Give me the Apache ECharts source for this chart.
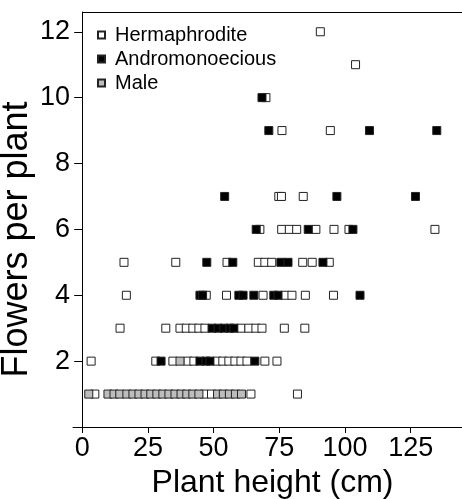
<!DOCTYPE html>
<html>
<head>
    <meta charset="utf-8">
    <title>Flowers per plant</title>
    <script type="text/javascript" src="https://cdn.jsdelivr.net/npm/echarts@6.0.0/dist/echarts.min.js"></script>
    <style>
        html, body { margin: 0; padding: 0; background: #fff; }
        #main { width: 462px; height: 499px; }
    </style>
</head>
<body>
    <div id="main"></div>
<script type="text/javascript">
    // tick labels
    var xTicks = [0, 25, 50, 75, 100, 125];
    var yTicks = [2, 4, 6, 8, 10, 12];
    var seriesNames = ['Hermaphrodite', 'Andromonoecious', 'Male'];

    // [plant height, flowers]
    var hermaphrodite = [
        [4.8, 1], [46.5, 1], [49.2, 1], [64.2, 1], [81.9, 1],
        [3.4, 2], [28, 2], [34.5, 2], [40.2, 2], [42.5, 2], [51.3, 2], [53.5, 2], [55.8, 2],
        [58.1, 2], [60.4, 2], [62.7, 2], [69.5, 2], [74.1, 2],
        [14.4, 3], [31.8, 3], [37.2, 3], [39.6, 3], [42.1, 3], [44.4, 3], [46.7, 3], [60.4, 3],
        [63.4, 3], [66.1, 3], [68.4, 3], [76.9, 3], [84.7, 3],
        [16.8, 4], [47.2, 4], [54.9, 4], [68.8, 4], [77.1, 4], [79.8, 4], [84.9, 4], [95.6, 4],
        [15.9, 5], [35.6, 5], [55.1, 5], [67.0, 5], [69.5, 5], [72.1, 5], [83.9, 5], [87.5, 5], [94.0, 5],
        [67.6, 6], [75.9, 6], [78.8, 6], [81.6, 6], [88.9, 6], [95.8, 6], [101.5, 6], [134.2, 6],
        [74.8, 7], [75.8, 7], [84.1, 7],
        [76.0, 9], [94.4, 9],
        [69.9, 10],
        [104.0, 11],
        [90.6, 12]
    ];
    var andromonoecious = [
        [30, 2], [44.8, 2], [47.1, 2], [48.6, 2], [65.7, 2],
        [49.4, 3], [51.7, 3], [53.9, 3], [56.2, 3], [57.7, 3],
        [44.8, 4], [45.8, 4], [59.6, 4], [61.2, 4], [65.3, 4], [72.9, 4], [74.5, 4], [105.7, 4],
        [47.4, 5], [57.3, 5], [75.6, 5], [78.3, 5], [91.6, 5],
        [66.2, 6], [86.0, 6], [103.0, 6],
        [54.2, 7], [96.9, 7], [126.8, 7],
        [71.0, 9], [109.3, 9], [134.9, 9],
        [68.4, 10]
    ];
    var male = [
        [2.5, 1], [9.8, 1], [12.1, 1], [14.3, 1], [17.0, 1], [19.3, 1], [21.6, 1], [23.9, 1],
        [26.1, 1], [28.4, 1], [30.7, 1], [33.0, 1], [35.3, 1], [37.6, 1], [39.8, 1], [42.1, 1],
        [44.4, 1], [51.5, 1], [53.7, 1], [56.0, 1], [58.3, 1], [60.6, 1],
        [37.2, 2]
    ];

    var xMin = -3.5, xMax = 144.5, yMin = 0, yMax = 12.6;
    var fills = ['#ffffff', '#000000', '#bdbdbd'];

    var myChart = echarts.init(document.getElementById('main'));

    function makeSeries(name, data, fill) {
        return {
            name: name,
            type: 'scatter',
            symbol: 'rect',
            symbolSize: 8,
            data: data,
            itemStyle: {
                color: fill,
                borderColor: '#222',
                borderWidth: 1,
                opacity: 1
            }
        };
    }

    var series = [
        makeSeries(seriesNames[0], hermaphrodite, fills[0]),
        makeSeries(seriesNames[1], andromonoecious, fills[1]),
        makeSeries(seriesNames[2], male, fills[2])
    ];
    // top frame line
    series[0].markLine = {
        silent: true,
        symbol: 'none',
        animation: false,
        label: { show: false },
        lineStyle: { color: '#000', width: 1, type: 'solid' },
        data: [[{ coord: [0, yMax] }, { coord: [xMax, yMax] }]]
    };

    var option = {
        animation: false,
        textStyle: { fontFamily: 'Liberation Sans' },
        grid: { left: 73, right: 0, top: 12, bottom: 72, outerBoundsMode: 'none', containLabel: false },
        legend: {
            data: seriesNames,
            orient: 'vertical',
            left: 92,
            top: 20,
            icon: 'rect',
            itemWidth: 7,
            itemHeight: 7,
            itemGap: 4,
            textStyle: { fontSize: 20, color: '#000', padding: [0, 0, 0, 5] }
        },
        xAxis: {
            type: 'value',
            min: xMin,
            max: xMax,
            name: 'Plant height (cm)',
            nameLocation: 'middle',
            nameGap: 40,
            nameMoveOverlap: false,
            nameTextStyle: { fontSize: 32, color: '#000', padding: [0, 0, 0, 10] },
            splitLine: { show: false },
            axisLine: { onZero: false, lineStyle: { color: '#000', width: 1 } },
            axisTick: { customValues: xTicks, length: 6, lineStyle: { color: '#000' } },
            axisLabel: { customValues: xTicks, fontSize: 27, color: '#000', margin: 8 }
        },
        yAxis: {
            type: 'value',
            min: yMin,
            max: yMax,
            name: 'Flowers per plant',
            nameLocation: 'middle',
            nameGap: 38,
            nameMoveOverlap: false,
            nameTextStyle: { fontSize: 36, color: '#000', padding: [0, 40, 0, 0] },
            splitLine: { show: false },
            axisLine: { show: true, onZero: true, lineStyle: { color: '#000', width: 1 } },
            axisTick: { show: true, customValues: yTicks, length: 8, lineStyle: { color: '#000' } },
            axisLabel: { customValues: yTicks, fontSize: 27, color: '#000', margin: 3 }
        },
        series: series
    };

    myChart.setOption(option);
</script>
</body>
</html>
